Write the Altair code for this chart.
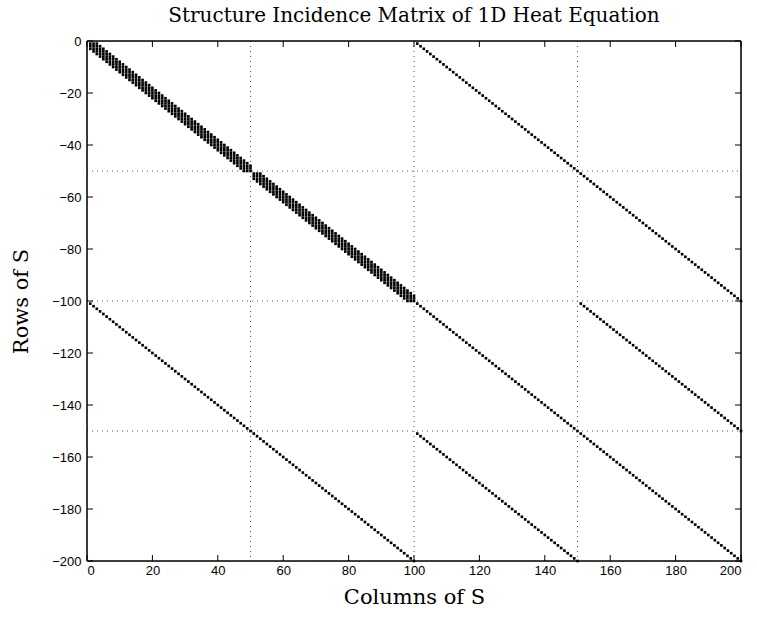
import altair as alt
import pandas as pd

# Diagonal segments of the incidence matrix: (first row, first column, length)
diag_rows = [1, 101, 101, 101, 151]
diag_cols = [101, 1, 101, 151, 101]
diag_lens = [100, 100, 100, 50, 50]

# Banded blocks: (first row/col, size), band offsets relative to the diagonal
block_starts = [1, 51]
block_sizes = [50, 50]
band_offsets = [-2, -1, 0, 1, 2]

grid_x = [50, 100, 150]
grid_y = [-50, -100, -150]
x_ticks = [0, 20, 40, 60, 80, 100, 120, 140, 160, 180, 200]
y_ticks = [0, -20, -40, -60, -80, -100, -120, -140, -160, -180, -200]

pts = []
for r0, c0, n in zip(diag_rows, diag_cols, diag_lens):
    for k in range(n):
        pts.append({"col": c0 + k, "row": -(r0 + k)})
for s, n in zip(block_starts, block_sizes):
    for k in range(n):
        for o in band_offsets:
            if 0 <= k + o < n:
                pts.append({"col": s + k + o, "row": -(s + k)})
df = pd.DataFrame(pts)

W, H = 654, 520
xs = alt.Scale(domain=[0, 200], nice=False, zero=False)
ys = alt.Scale(domain=[-200, 0], nice=False, zero=False)

SERIF = "DejaVu Serif"
SANS = "Liberation Sans"

base_x = alt.X("col:Q", scale=xs,
               axis=alt.Axis(values=x_ticks, ticks=False, grid=False, domain=False,
                             labelFont=SANS, labelFontSize=13, labelColor="black",
                             labelPadding=3, title="Columns of S", titleFont=SERIF,
                             titleFontSize=21, titleFontWeight="normal", titleColor="black",
                             titlePadding=9))
base_y = alt.Y("row:Q", scale=ys,
               axis=alt.Axis(values=y_ticks, ticks=False, grid=False, domain=False,
                             labelFont=SANS, labelFontSize=13, labelColor="black",
                             labelPadding=6, title="Rows of S", titleFont=SERIF,
                             titleFontSize=21, titleFontWeight="normal", titleColor="black",
                             titlePadding=20))

points = alt.Chart(df).mark_square(size=7, color="black", opacity=1).encode(x=base_x, y=base_y)

gx = alt.Chart(pd.DataFrame({"g": grid_x})).mark_rule(
    color="#555555", strokeDash=[1, 4], strokeWidth=1).encode(
    x=alt.X("g:Q", scale=xs), y=alt.value(0), y2=alt.value(H))
gy = alt.Chart(pd.DataFrame({"g": grid_y})).mark_rule(
    color="#555555", strokeDash=[1, 4], strokeWidth=1).encode(
    y=alt.Y("g:Q", scale=ys), x=alt.value(0), x2=alt.value(W))

tx = pd.DataFrame({"t": x_ticks})
ty = pd.DataFrame({"t": y_ticks})
tl = 6
tick_b = alt.Chart(tx).mark_rule(color="black", strokeWidth=1).encode(
    x=alt.X("t:Q", scale=xs), y=alt.value(H), y2=alt.value(H - tl))
tick_t = alt.Chart(tx).mark_rule(color="black", strokeWidth=1).encode(
    x=alt.X("t:Q", scale=xs), y=alt.value(0), y2=alt.value(tl))
tick_l = alt.Chart(ty).mark_rule(color="black", strokeWidth=1).encode(
    y=alt.Y("t:Q", scale=ys), x=alt.value(0), x2=alt.value(tl))
tick_r = alt.Chart(ty).mark_rule(color="black", strokeWidth=1).encode(
    y=alt.Y("t:Q", scale=ys), x=alt.value(W), x2=alt.value(W - tl))

frame_h = alt.Chart(pd.DataFrame({"p": [0, H]})).mark_rule(color="black", strokeWidth=1.5).encode(
    y=alt.Y("p:Q", scale=None), x=alt.value(0), x2=alt.value(W))
frame_v = alt.Chart(pd.DataFrame({"p": [0, W]})).mark_rule(color="black", strokeWidth=1.5).encode(
    x=alt.X("p:Q", scale=None), y=alt.value(0), y2=alt.value(H))

chart = alt.layer(gx, gy, tick_b, tick_t, tick_l, tick_r, points, frame_h, frame_v).properties(
    width=W, height=H,
    title=alt.TitleParams("Structure Incidence Matrix of 1D Heat Equation",
                          font=SERIF, fontSize=20, fontWeight="normal",
                          color="black", offset=9, anchor="middle"),
    autosize=alt.AutoSizeParams(type="none"),
    padding={"left": 87, "top": 41, "right": 16, "bottom": 56},
).configure_view(stroke=None).configure(background="white")

chart.save("out.html", embed_options={"renderer": "svg", "actions": False})
